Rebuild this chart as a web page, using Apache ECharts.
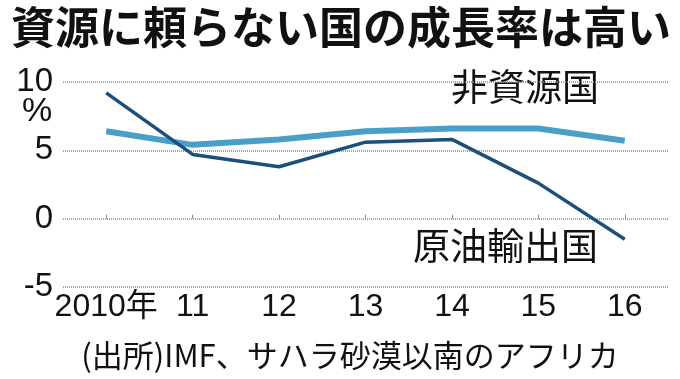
<!DOCTYPE html>
<html><head><meta charset="utf-8">
<script src="https://cdn.jsdelivr.net/npm/echarts@6/dist/echarts.min.js"></script>
<style>html,body{margin:0;padding:0;background:#fff}#c{width:680px;height:379px}</style>
</head><body><div id="c"></div>
<script>
const categories = ['2010年','11','12','13','14','15','16'];
const oilExporters = [9.2, 4.7, 3.8, 5.6, 5.8, 2.6, -1.5];
const nonResource = [6.4, 5.4, 5.8, 6.4, 6.6, 6.6, 5.7];
const yTicks = [-5, 0, 5, 10];
const FONT = '"Noto Sans CJK JP", "Liberation Sans", sans-serif';
const LATIN = '"Liberation Sans", "Noto Sans CJK JP", sans-serif';

const chart = echarts.init(document.getElementById('c'), null, {renderer:'canvas'});
chart.setOption({
  backgroundColor:'#fff',
  animation:false,
  title:{text:'資源に頼らない国の成長率は高い', left:6, top:0,
    textStyle:{fontFamily:FONT, fontSize:44, fontWeight:'bold', color:'#111'}},
  grid:{left:63, right:12, top:82, bottom:92},
  xAxis:{type:'category', data:categories, boundaryGap:true,
    axisLine:{show:false},
    axisTick:{show:true, alignWithLabel:true, inside:true, length:4, interval:0, lineStyle:{color:'#888'}},
    axisLabel:{fontFamily:LATIN, fontSize:32, color:'#111', margin:4, interval:0}},
  yAxis:{type:'value', min:yTicks[0], max:yTicks[yTicks.length-1], interval:5,
    axisLine:{show:false}, axisTick:{show:false},
    axisLabel:{fontFamily:LATIN, fontSize:33, color:'#111', margin:10, padding:[0,0,6,0]},
    splitLine:{show:true, lineStyle:{color:'#888', type:[1,1], width:1.5}}},
  graphic:[
    {type:'text', x:37, y:112, style:{text:'%', fontFamily:LATIN, fontSize:34, fill:'#111', align:'center', verticalAlign:'middle'}},
    {type:'text', left:451, top:68, style:{text:'非資源国', fontFamily:FONT, fontSize:37, fill:'#111'}},
    {type:'text', left:413, top:227, style:{text:'原油輸出国', fontFamily:FONT, fontSize:37, fill:'#111'}},
    {type:'text', x:350, y:355, style:{text:'(出所)IMF、サハラ砂漠以南のアフリカ', fontFamily:FONT, fontSize:31, fill:'#111', align:'center', verticalAlign:'middle'}}
  ],
  series:[
    {name:'非資源国', type:'line', data:nonResource, symbol:'none',
      lineStyle:{color:'#4a9fc9', width:6}},
    {name:'原油輸出国', type:'line', data:oilExporters, symbol:'none',
      lineStyle:{color:'#1b4f7c', width:3.5}}
  ]
});
</script></body></html>
